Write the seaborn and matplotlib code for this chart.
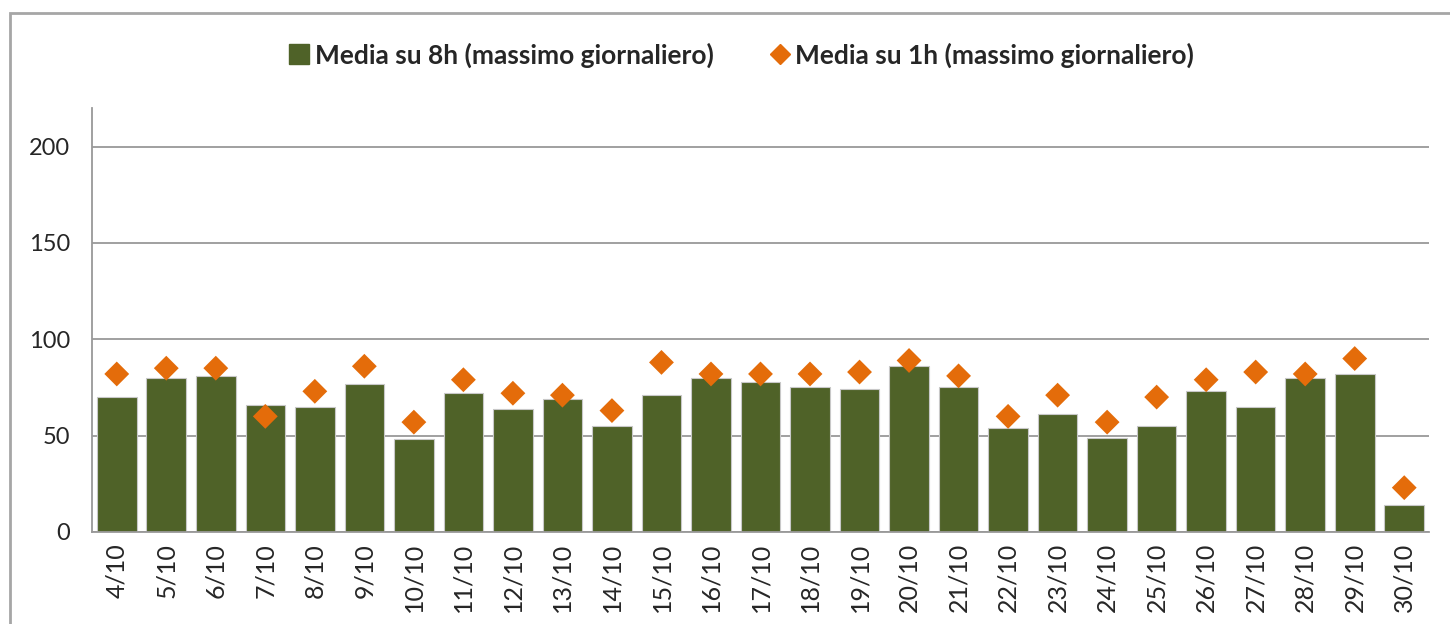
import matplotlib
matplotlib.use("Agg")
import matplotlib.pyplot as plt
import seaborn as sns
from matplotlib.patches import Rectangle
from matplotlib.lines import Line2D

date = ["4/10", "5/10", "6/10", "7/10", "8/10", "9/10", "10/10", "11/10", "12/10",
        "13/10", "14/10", "15/10", "16/10", "17/10", "18/10", "19/10", "20/10",
        "21/10", "22/10", "23/10", "24/10", "25/10", "26/10", "27/10", "28/10",
        "29/10", "30/10"]
media_8h = [70, 80, 81, 66, 65, 77, 48, 72, 64, 69, 55, 71, 80, 78, 75, 74, 86,
            75, 54, 61, 49, 55, 73, 65, 80, 82, 14]
media_1h = [82, 85, 85, 60, 73, 86, 57, 79, 72, 71, 63, 88, 82, 82, 82, 83, 89,
            81, 60, 71, 57, 70, 79, 83, 82, 90, 23]

verde = "#4f6228"
arancio = "#e46c0a"
grigio = "#999999"

sns.set_style("white")
plt.rcParams['font.family'] = ['Lato', 'DejaVu Sans']

fig = plt.figure(figsize=(14.5, 6.24), dpi=100)
ax = fig.add_axes([92 / 1450, 1 - 532 / 624, (1429 - 92) / 1450, (532 - 108) / 624])

# cornice esterna del grafico
fig.patches.append(Rectangle((10 / 1450, -0.2), 1.2, 1.2 - 13 / 624,
                             transform=fig.transFigure, fill=False,
                             edgecolor="#a6a6a6", linewidth=2))

sns.barplot(x=date, y=media_8h, color=verde, width=0.8, saturation=1,
            edgecolor="#c8c8c8", linewidth=0.8, ax=ax, zorder=2)
sns.scatterplot(x=date, y=media_1h, marker="D", color=arancio, s=160,
                edgecolor="none", ax=ax, zorder=3)

ax.set_xlim(-0.5, len(date) - 0.5)
ax.set_ylim(0, 220)
ax.set_yticks([0, 50, 100, 150, 200])
ax.yaxis.grid(True, color=grigio, linewidth=1.3, zorder=0)
ax.set_axisbelow(True)

ax.tick_params(axis="x", which="major", length=0, labelrotation=90,
               labelsize=18, pad=8)
ax.set_xticks([i - 0.5 for i in range(len(date) + 1)], minor=True)
ax.tick_params(axis="x", which="minor", length=8, color=grigio, width=1.3)
ax.tick_params(axis="y", length=8, color=grigio, width=1.3, labelsize=17, pad=8)

for side in ["top", "right"]:
    ax.spines[side].set_visible(False)
for side in ["left", "bottom"]:
    ax.spines[side].set_color(grigio)
    ax.spines[side].set_linewidth(1.3)

handles = [
    Line2D([], [], marker="s", linestyle="none", color=verde, markersize=14),
    Line2D([], [], marker="D", linestyle="none", color=arancio, markersize=10),
]
labels = ["Media su 8h (massimo giornaliero)", "Media su 1h (massimo giornaliero)"]
fig.legend(handles, labels, loc="center", bbox_to_anchor=(740 / 1450, 1 - 55 / 624),
           ncol=2, frameon=False, handletextpad=0.1, handlelength=1.0,
           columnspacing=2.0, prop={"weight": "bold", "size": 19})

fig.savefig("out.png", dpi=100)
